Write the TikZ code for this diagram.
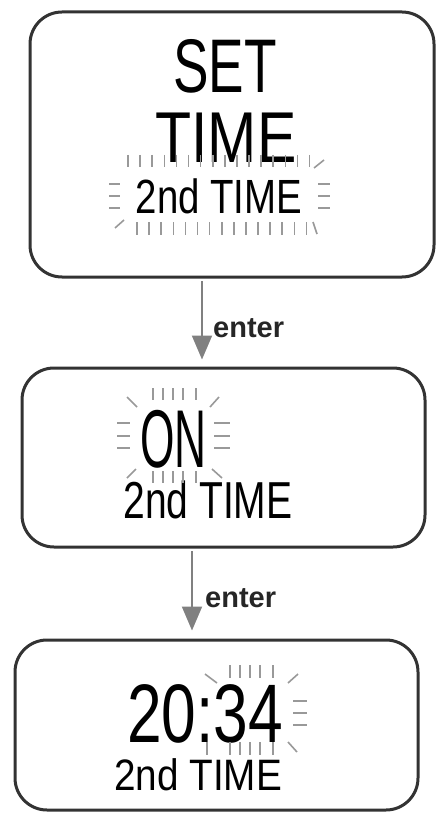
\documentclass[tikz,border=0pt]{standalone}
\usepackage{fontspec}
\usetikzlibrary{arrows.meta}
\newfontfamily\enterfont{Liberation Sans}
\newcommand\lcdfont[2]{\fontspec{Liberation Sans}[FakeStretch=#2]\fontsize{#1}{#1}\selectfont}
\tikzset{
  lcdbox/.style={draw=black!80, line width=3pt, rounded corners=32pt},
  lcd/.style 2 args={font=\lcdfont{#1}{#2}, inner sep=0pt, anchor=base},
  flash/.style={draw=black!40, line width=1.6pt},
  flow/.style={draw=black!50, line width=2pt, -{Triangle[width=20pt,length=24pt]}},
  enterlbl/.style={font=\enterfont\bfseries\fontsize{29}{29}\selectfont,
    text=black!85, inner sep=0pt, anchor=base west}
}
\begin{document}
\begin{tikzpicture}[x=1pt, y=-1pt]
\useasboundingbox (0,0) rectangle (438,813);
\node[lcdbox, minimum width=404, minimum height=265] (box1) at (232,144.5) {};
\node[lcdbox, minimum width=403, minimum height=179] (box2) at (223.5,457.5) {};
\node[lcdbox, minimum width=403, minimum height=170] (box3) at (216.5,725) {};

\node[lcd={76}{0.7}] (set) at (225,93) {SET};
\node[lcd={72}{0.82}] (time) at (226,163) {TIME};
\node[lcd={48}{0.8}] (sec1) at (219,213) {2nd TIME};
\foreach \i in {0,...,15} \draw[flash] ({128+12.1*\i},155) -- ++(0,12);
\foreach \i in {0,...,14} \draw[flash] ({137+12.1*\i},222) -- ++(0,13);
\foreach \y in {184,196,208} {
  \draw[flash] (109,\y) -- ++(11,0);
  \draw[flash] (318,\y) -- ++(12,0);
}
\draw[flash] (115,228) -- ++(9,-8);
\draw[flash] (314,168) -- ++(10,-8);
\draw[flash] (313,222) -- ++(4,12);

\node[lcd={82}{0.54}] (on) at (173.5,467) {ON};
\node[lcd={52}{0.75}] (sec2) at (208,518) {2nd TIME};
\foreach \x in {153,163,173,183,196} {
  \draw[flash] (\x,388) -- ++(0,12);
  \draw[flash] (\x,471) -- ++(0,12);
}
\foreach \y in {423,436,448} {
  \draw[flash] (117,\y) -- ++(13,0);
  \draw[flash] (214,\y) -- ++(16,0);
}
\draw[flash] (127,397) -- ++(10,10);
\draw[flash] (219,397) -- ++(-9,10);
\draw[flash] (127,478) -- ++(9,-9);
\draw[flash] (212,469) -- ++(10,9);

\node[lcd={83}{0.75}] (clock) at (205,742) {20:34};
\node[lcd={44}{0.88}] (sec3) at (198,790) {2nd TIME};
\foreach \x in {230,240,250,260,273} \draw[flash] (\x,665) -- ++(0,13);
\foreach \x in {207,230,240,250,260,273} \draw[flash] (\x,742) -- ++(0,13);
\foreach \y in {701,713,725} \draw[flash] (293,\y) -- ++(14,0);
\draw[flash] (205,674) -- ++(12,9);
\draw[flash] (298,674) -- ++(-10,9);
\draw[flash] (288,742) -- ++(9,10);

\coordinate (c1) at (202,281);
\coordinate (c2) at (192,551);
\draw[flow, shorten >=7pt] (c1) -- (c1 |- box2.north);
\draw[flow, shorten >=8pt] (c2) -- (c2 |- box3.north);
\node[enterlbl] (enter1) at (213,337) {enter};
\node[enterlbl] (enter2) at (205,607) {enter};
\end{tikzpicture}
\end{document}
